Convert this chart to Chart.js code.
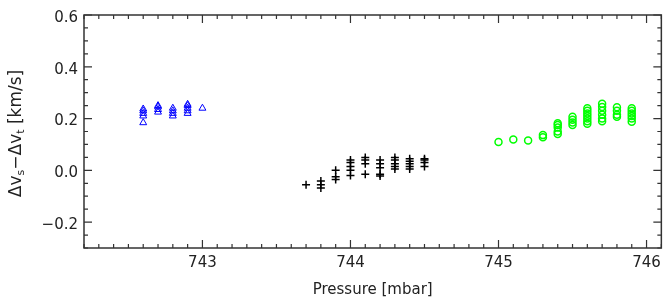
<!DOCTYPE html>
<html>
<head>
<meta charset="utf-8">
<script src="https://cdn.jsdelivr.net/npm/chart.js@4"></script>
<style>
  html, body { margin: 0; padding: 0; background: #fff; }
  #wrap { width: 667px; height: 304px; }
</style>
</head>
<body>
<div id="wrap"><canvas id="dvChart" width="667" height="304"></canvas></div>
<script>
// axis ticks
const xTicks = [743, 744, 745, 746];
const yTicks = [-0.2, 0.0, 0.2, 0.4, 0.6];

// blue triangles
const bluePressure = [742.6, 742.6, 742.6, 742.6, 742.6, 742.7, 742.7, 742.7, 742.7, 742.8, 742.8, 742.8, 742.8, 742.9, 742.9, 742.9, 742.9, 742.9, 743.0];
const blueDv       = [0.184, 0.21, 0.22, 0.23, 0.237, 0.225, 0.235, 0.245, 0.25, 0.21, 0.22, 0.23, 0.24, 0.22, 0.23, 0.24, 0.25, 0.255, 0.24];

// black crosses
const blackPressure = [743.7, 743.8, 743.8, 743.8, 743.9, 743.9, 743.9,
  744.0, 744.0, 744.0, 744.0, 744.0, 744.1, 744.1, 744.1, 744.1,
  744.2, 744.2, 744.2, 744.2, 744.2, 744.3, 744.3, 744.3, 744.3, 744.3,
  744.4, 744.4, 744.4, 744.4, 744.4, 744.5, 744.5, 744.5, 744.5];
const blackDv = [-0.056, -0.068, -0.056, -0.041, -0.035, -0.025, 0.0,
  -0.02, 0.0, 0.015, 0.03, 0.04, -0.015, 0.025, 0.04, 0.05,
  -0.022, -0.015, 0.01, 0.025, 0.04, 0.005, 0.015, 0.025, 0.04, 0.05,
  0.005, 0.015, 0.025, 0.035, 0.045, 0.015, 0.03, 0.04, 0.045];

// green circles
const greenPressure = [745.0, 745.1, 745.2, 745.3, 745.3,
  745.4, 745.4, 745.4, 745.4, 745.4, 745.5, 745.5, 745.5, 745.5,
  745.6, 745.6, 745.6, 745.6, 745.6, 745.6, 745.6,
  745.7, 745.7, 745.7, 745.7, 745.7, 745.7,
  745.8, 745.8, 745.8, 745.8,
  745.9, 745.9, 745.9, 745.9, 745.9, 745.9];
const greenDv = [0.109, 0.119, 0.115, 0.128, 0.136,
  0.14, 0.15, 0.165, 0.175, 0.182, 0.175, 0.185, 0.195, 0.207,
  0.18, 0.19, 0.20, 0.21, 0.22, 0.23, 0.24,
  0.19, 0.20, 0.215, 0.23, 0.245, 0.257,
  0.207, 0.215, 0.23, 0.244,
  0.188, 0.20, 0.21, 0.22, 0.23, 0.24];

const toPts = (xs, ys) => xs.map((x, i) => ({ x: x, y: ys[i] }));

const inkColor = '#222';
const fontFam = '"DejaVu Sans", sans-serif';

// draws the box with inward ticks on all four sides, plus the y title with subscripts
const framePlugin = {
  id: 'frame',
  afterDraw(chart) {
    const ctx = chart.ctx;
    const a = chart.chartArea;
    const xs = chart.scales.x, ys = chart.scales.y;
    ctx.save();
    ctx.strokeStyle = '#333';
    ctx.lineWidth = 1.5;
    ctx.strokeRect(a.left, a.top, a.right - a.left, a.bottom - a.top);
    ctx.lineWidth = 1.2;
    ctx.beginPath();
    // x ticks: minor every 0.1
    for (let i = 7422; i <= 7461; i++) {
      const v = i / 10;
      if (v < xs.min || v > xs.max) continue;
      const p = xs.getPixelForValue(v);
      const len = (i % 10 === 0) ? 8 : 4;
      ctx.moveTo(p, a.bottom); ctx.lineTo(p, a.bottom - len);
      ctx.moveTo(p, a.top); ctx.lineTo(p, a.top + len);
    }
    // y ticks: minor every 0.05
    for (let i = -6; i <= 12; i++) {
      const v = i * 0.05;
      if (v < ys.min - 1e-9 || v > ys.max + 1e-9) continue;
      const p = ys.getPixelForValue(v);
      const len = (i % 4 === 0) ? 8 : 4;
      ctx.moveTo(a.left, p); ctx.lineTo(a.left + len, p);
      ctx.moveTo(a.right, p); ctx.lineTo(a.right - len, p);
    }
    ctx.stroke();

    // y title: Δv_s−Δv_t [km/s]
    const cy = (a.top + a.bottom) / 2 + 2;
    ctx.translate(17, cy);
    ctx.rotate(-Math.PI / 2);
    ctx.fillStyle = inkColor;
    ctx.textBaseline = 'middle';
    const big = '17px ' + fontFam, small = '11px ' + fontFam;
    const parts = [
      ['Δv', big, 0], ['s', small, 4], ['−Δv', big, 0], ['t', small, 4], [' [km/s]', big, 0]
    ];
    let total = 0;
    parts.forEach(p => { ctx.font = p[1]; total += ctx.measureText(p[0]).width; });
    let x = -total / 2;
    parts.forEach(p => {
      ctx.font = p[1];
      ctx.fillText(p[0], x, p[2]);
      x += ctx.measureText(p[0]).width;
    });
    ctx.restore();
  }
};

const ctx = document.getElementById('dvChart').getContext('2d');
const dvChart = new Chart(ctx, {
  type: 'scatter',
  data: {
    datasets: [
      {
        data: toPts(bluePressure, blueDv),
        pointStyle: 'triangle',
        pointRadius: 4,
        borderColor: '#0000ff',
        backgroundColor: 'rgba(0,0,0,0)',
        borderWidth: 1
      },
      {
        data: toPts(blackPressure, blackDv),
        pointStyle: 'cross',
        pointRadius: 4,
        borderColor: '#000',
        backgroundColor: '#000',
        borderWidth: 1.5
      },
      {
        data: toPts(greenPressure, greenDv),
        pointStyle: 'circle',
        pointRadius: 3.5,
        borderColor: '#00ff00',
        backgroundColor: 'rgba(0,0,0,0)',
        borderWidth: 1.5
      }
    ]
  },
  options: {
    responsive: false,
    animation: false,
    layout: { padding: { top: 9, right: 3, left: 0, bottom: 5 } },
    plugins: {
      legend: { display: false },
      tooltip: { enabled: false }
    },
    scales: {
      x: {
        type: 'linear',
        min: 742.2,
        max: 746.1,
        grid: { display: false, drawTicks: false },
        border: { display: false },
        afterBuildTicks: s => { s.ticks = xTicks.map(v => ({ value: v })); },
        afterFit: s => { s.height = 51; },
        ticks: {
          color: inkColor,
          font: { family: fontFam, size: 15 },
          padding: 6,
          maxRotation: 0,
          callback: v => String(v)
        },
        title: {
          display: true,
          text: 'Pressure [mbar]',
          color: inkColor,
          font: { family: fontFam, size: 15 },
          padding: { top: 2, bottom: 0 }
        }
      },
      y: {
        type: 'linear',
        min: -0.3,
        max: 0.6,
        grid: { display: false, drawTicks: false },
        border: { display: false },
        afterBuildTicks: s => { s.ticks = yTicks.map(v => ({ value: v })); },
        afterFit: s => { s.width = 84; },
        ticks: {
          color: inkColor,
          font: { family: fontFam, size: 15 },
          padding: 6,
          labelOffset: 3,
          callback: v => v.toFixed(1).replace('-', '−')
        }
      }
    }
  },
  plugins: [framePlugin]
});
</script>
</body>
</html>
